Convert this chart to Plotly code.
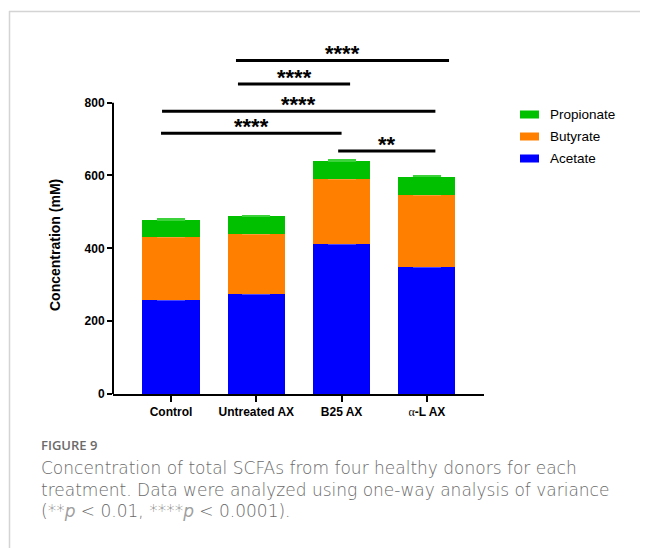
import plotly.graph_objects as go

# ---- data ----
categories = ["Control", "Untreated AX", "B25 AX", "α-L AX"]
acetate = [258, 275, 412, 349]
butyrate = [172, 163, 179, 198]
propionate = [47, 50, 49, 50]
acetate_err = [6, 5, 2, 5]
butyrate_err = [3, 8, 2, 3]
propionate_err = [3, 1, 2, 2]
y_ticks = [0, 200, 400, 600, 800]
# significance brackets: (x start, x end, height, label)
brackets = [
    (0.762, 3.26, 916, "****"),
    (0.785, 2.10, 851, "****"),
    (-0.105, 3.10, 776, "****"),
    (-0.117, 2.00, 716, "****"),
    (1.96, 3.10, 667, "**"),
]
legend_items = [("Propionate", "#00C000"), ("Butyrate", "#FF8000"), ("Acetate", "#0000FF")]

# ---- geometry (page pixels; page body has an 8px margin) ----
OFF = 8
W, H = 648 - OFF, 548 - OFF
PL, PR, PT, PB = 113, 484, 48, 394          # plot area in page pixels
L, R, T, B = PL - OFF, 648 - PR, PT - OFF, 548 - PB
PW, PH = PR - PL, PB - PT
YMAX = 950


def px_x(px):
    return (px - PL) / PW


def px_y(py):
    return (PB - py) / PH


xs = list(range(len(categories)))
ticktext = [
    c.replace("α", "<span style='font-family:Liberation Serif;font-weight:normal'>α</span>")
    for c in categories
]

fig = go.Figure()
series = [
    ("Acetate", acetate, acetate_err, "#0000FF", "#4848FF"),
    ("Butyrate", butyrate, butyrate_err, "#FF8000", "#FF9A33"),
    ("Propionate", propionate, propionate_err, "#00C000", "#3CD23C"),
]
for name, vals, err, col, ecol in series:
    fig.add_trace(go.Bar(
        x=xs, y=vals, name=name, width=0.67,
        marker=dict(color=col, line=dict(width=0)),
        error_y=dict(type="data", array=err, arrayminus=[0] * len(err),
                     color=ecol, thickness=1.5, width=14),
        showlegend=False,
    ))

shapes = []
annotations = []
# y axis line (0..800 only)
shapes.append(dict(type="line", xref="paper", yref="y", x0=0, x1=0, y0=0, y1=800,
                   line=dict(color="black", width=2)))
# brackets
for x0, x1, yv, lab in brackets:
    shapes.append(dict(type="line", xref="x", yref="y", x0=x0, x1=x1, y0=yv, y1=yv,
                       line=dict(color="black", width=3)))
    annotations.append(dict(x=(x0 + x1) / 2, y=yv, xref="x", yref="y", text=lab,
                            showarrow=False, yanchor="middle", yshift=7,
                            font=dict(family="Liberation Sans", size=22, color="black",
                                      weight="bold")))
# legend
leg_y = [114.5, 136.5, 158.5]
for (name, col), ly in zip(legend_items, leg_y):
    shapes.append(dict(type="rect", xref="paper", yref="paper",
                       x0=px_x(520), x1=px_x(539), y0=px_y(ly + 4), y1=px_y(ly - 4),
                       fillcolor=col, line=dict(width=0)))
    annotations.append(dict(x=px_x(548), y=px_y(ly), xref="paper", yref="paper",
                            text=name, showarrow=False, xanchor="left", yanchor="middle",
                            font=dict(family="Liberation Sans", size=13.5, color="black")))
# y title
annotations.append(dict(x=px_x(55), y=px_y(245), xref="paper", yref="paper",
                        text="<b>Concentration (mM)</b>", textangle=-90, showarrow=False,
                        xanchor="center", yanchor="middle",
                        font=dict(family="Liberation Sans", size=14, color="black")))
# frame lines
shapes.append(dict(type="line", xref="paper", yref="paper", x0=px_x(9), x1=px_x(670),
                   y0=px_y(11.5), y1=px_y(11.5), line=dict(color="#d4d4d4", width=1.5)))
shapes.append(dict(type="line", xref="paper", yref="paper", x0=px_x(9.5), x1=px_x(9.5),
                   y0=px_y(11), y1=px_y(570), line=dict(color="#d4d4d4", width=1.5)))
# caption
annotations.append(dict(x=px_x(39), y=px_y(445), xref="paper", yref="paper",
                        text="FIGURE 9", showarrow=False, xanchor="left", yanchor="middle",
                        font=dict(family="Open Sans", size=13, color="#6b6b6b", weight=600)))
pit = "<span style='color:#a0a0a0'><i>p</i></span>"
caption_lines = [
    "Concentration of total SCFAs from four healthy donors for each",
    "treatment. Data were analyzed using one-way analysis of variance",
    "(**" + pit + " &lt; 0.01, ****" + pit + " &lt; 0.0001).",
]
for i, line in enumerate(caption_lines):
    annotations.append(dict(x=px_x(39), y=px_y(468 + 21.5 * i), xref="paper", yref="paper",
                            text=line, showarrow=False, xanchor="left", yanchor="middle",
                            font=dict(family="DejaVu Sans", size=17, color="#6a6a6a",
                                      weight=200)))

fig.update_layout(
    width=W, height=H,
    margin=dict(l=L, r=R, t=T, b=B, pad=0),
    barmode="stack",
    plot_bgcolor="white", paper_bgcolor="white",
    shapes=shapes, annotations=annotations,
    showlegend=False,
    xaxis=dict(range=[-0.68, 3.67], tickvals=xs, ticktext=ticktext,
               showline=True, linecolor="black", linewidth=2,
               ticks="outside", ticklen=6, tickwidth=2, tickcolor="black",
               showgrid=False, zeroline=False,
               tickfont=dict(family="Liberation Sans", size=12, color="black", weight="bold")),
    yaxis=dict(range=[0, YMAX], tickvals=y_ticks, showline=False,
               ticks="outside", ticklen=5, tickwidth=2, tickcolor="black",
               showgrid=False, zeroline=False,
               tickfont=dict(family="Liberation Sans", size=12, color="black", weight="bold")),
)

fig.write_html("out.html")
